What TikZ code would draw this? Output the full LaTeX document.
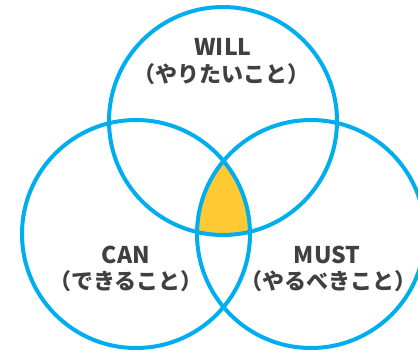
\documentclass[tikz,border=0pt]{standalone}
\usepackage{fontspec}
\setmainfont{Noto Sans CJK JP}
\definecolor{ringblue}{HTML}{00AEEF}
\definecolor{coreyellow}{HTML}{FFC933}
\definecolor{labelgray}{HTML}{404040}
\begin{document}
\begin{tikzpicture}[x=1pt,y=-1pt,
  ring/.style={draw=ringblue,line width=4pt},
  title/.style={font=\fontsize{23}{23}\selectfont\bfseries,text=labelgray,inner sep=0pt},
  sub/.style={font=\fontsize{22}{22}\selectfont\bfseries,text=labelgray,inner sep=0pt}]
\useasboundingbox (0,0) rectangle (418,354);
\def\R{114}
\coordinate (cw) at (223,121);
\coordinate (cc) at (136,234);
\coordinate (cm) at (311,234);
\begin{scope}
  \clip (cw) circle (\R);
  \clip (cc) circle (\R);
  \fill[coreyellow] (cm) circle (\R);
\end{scope}
\draw[ring] (cw) circle (\R);
\draw[ring] (cc) circle (\R);
\draw[ring] (cm) circle (\R);
\node[title] (willt) at (223,47) {WILL};
\node[sub] (wills) at (221,74) {（やりたいこと）};
\node[title] (cant) at (126,255) {CAN};
\node[sub] (cans) at (126,281) {（できること）};
\node[title] (mustt) at (327,255) {MUST};
\node[sub] (musts) at (328,281) {（やるべきこと）};
\end{tikzpicture}
\end{document}
